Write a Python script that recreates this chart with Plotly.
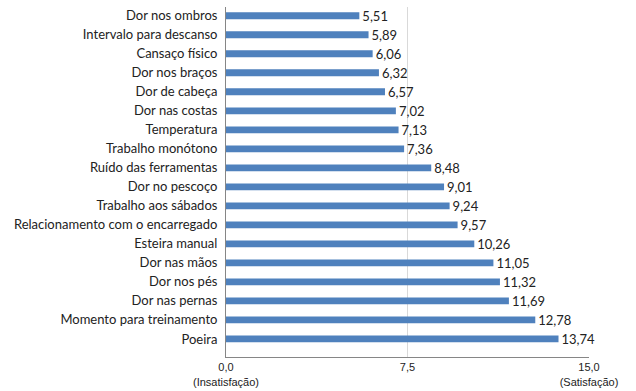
import plotly.graph_objects as go

categories = ["Dor nos ombros", "Intervalo para descanso", "Cansaço físico", "Dor nos braços",
              "Dor de cabeça", "Dor nas costas", "Temperatura", "Trabalho monótono",
              "Ruído das ferramentas", "Dor no pescoço", "Trabalho aos sábados",
              "Relacionamento com o encarregado", "Esteira manual", "Dor nas mãos",
              "Dor nos pés", "Dor nas pernas", "Momento para treinamento", "Poeira"]
values = [5.51, 5.89, 6.06, 6.32, 6.57, 7.02, 7.13, 7.36, 8.48, 9.01, 9.24, 9.57,
          10.26, 11.05, 11.32, 11.69, 12.78, 13.74]
tick_vals = [0, 7.5, 15]
tick_text = ["0,0<br>(Insatisfação)", "7,5", "15,0<br>(Satisfação)"]

labels = [f"{v:.2f}".replace(".", ",") for v in values]

fig = go.Figure()
fig.add_trace(go.Bar(
    x=values, y=categories, orientation="h",
    marker=dict(color="#4F81BD", line=dict(width=0)),
    text=labels, textposition="outside", cliponaxis=False, constraintext="none",
    textfont=dict(family="Lato", size=13, color="#222222"),
    width=0.36, hoverinfo="skip",
))
fig.add_trace(go.Scatter(x=[7.5], y=[categories[0]], xaxis="x2", mode="markers",
                         marker=dict(opacity=0), hoverinfo="skip", showlegend=False))

fig.update_layout(
    width=636, height=391,
    margin=dict(l=226, r=47, t=7, b=34),
    paper_bgcolor="white", plot_bgcolor="white",
    showlegend=False,
    xaxis=dict(range=[0, 15], tickvals=tick_vals, ticktext=tick_text, automargin=False,
               showgrid=False, zeroline=False, showline=True, linecolor="#868686",
               linewidth=1, ticks="", tickfont=dict(family="Liberation Sans", size=11, color="#222222")),
    xaxis2=dict(range=[0, 15], overlaying="x", tickvals=[7.5], showticklabels=False,
                showgrid=True, gridcolor="#D9D9D9", gridwidth=1, zeroline=False,
                showline=False, ticks="", automargin=False, layer="below traces"),
    yaxis=dict(categoryorder="array", categoryarray=categories, automargin=False,
               range=[17.95, -0.46], showgrid=False, zeroline=False,
               showline=True, linecolor="#868686", linewidth=1, ticks="",
               ticklabelstandoff=5,
               tickfont=dict(family="Lato", size=13, color="#222222")),
)
fig.write_html("out.html", config={"displayModeBar": False, "staticPlot": True},
               post_script="document.body.style.margin='0';document.body.style.overflow='hidden';")
